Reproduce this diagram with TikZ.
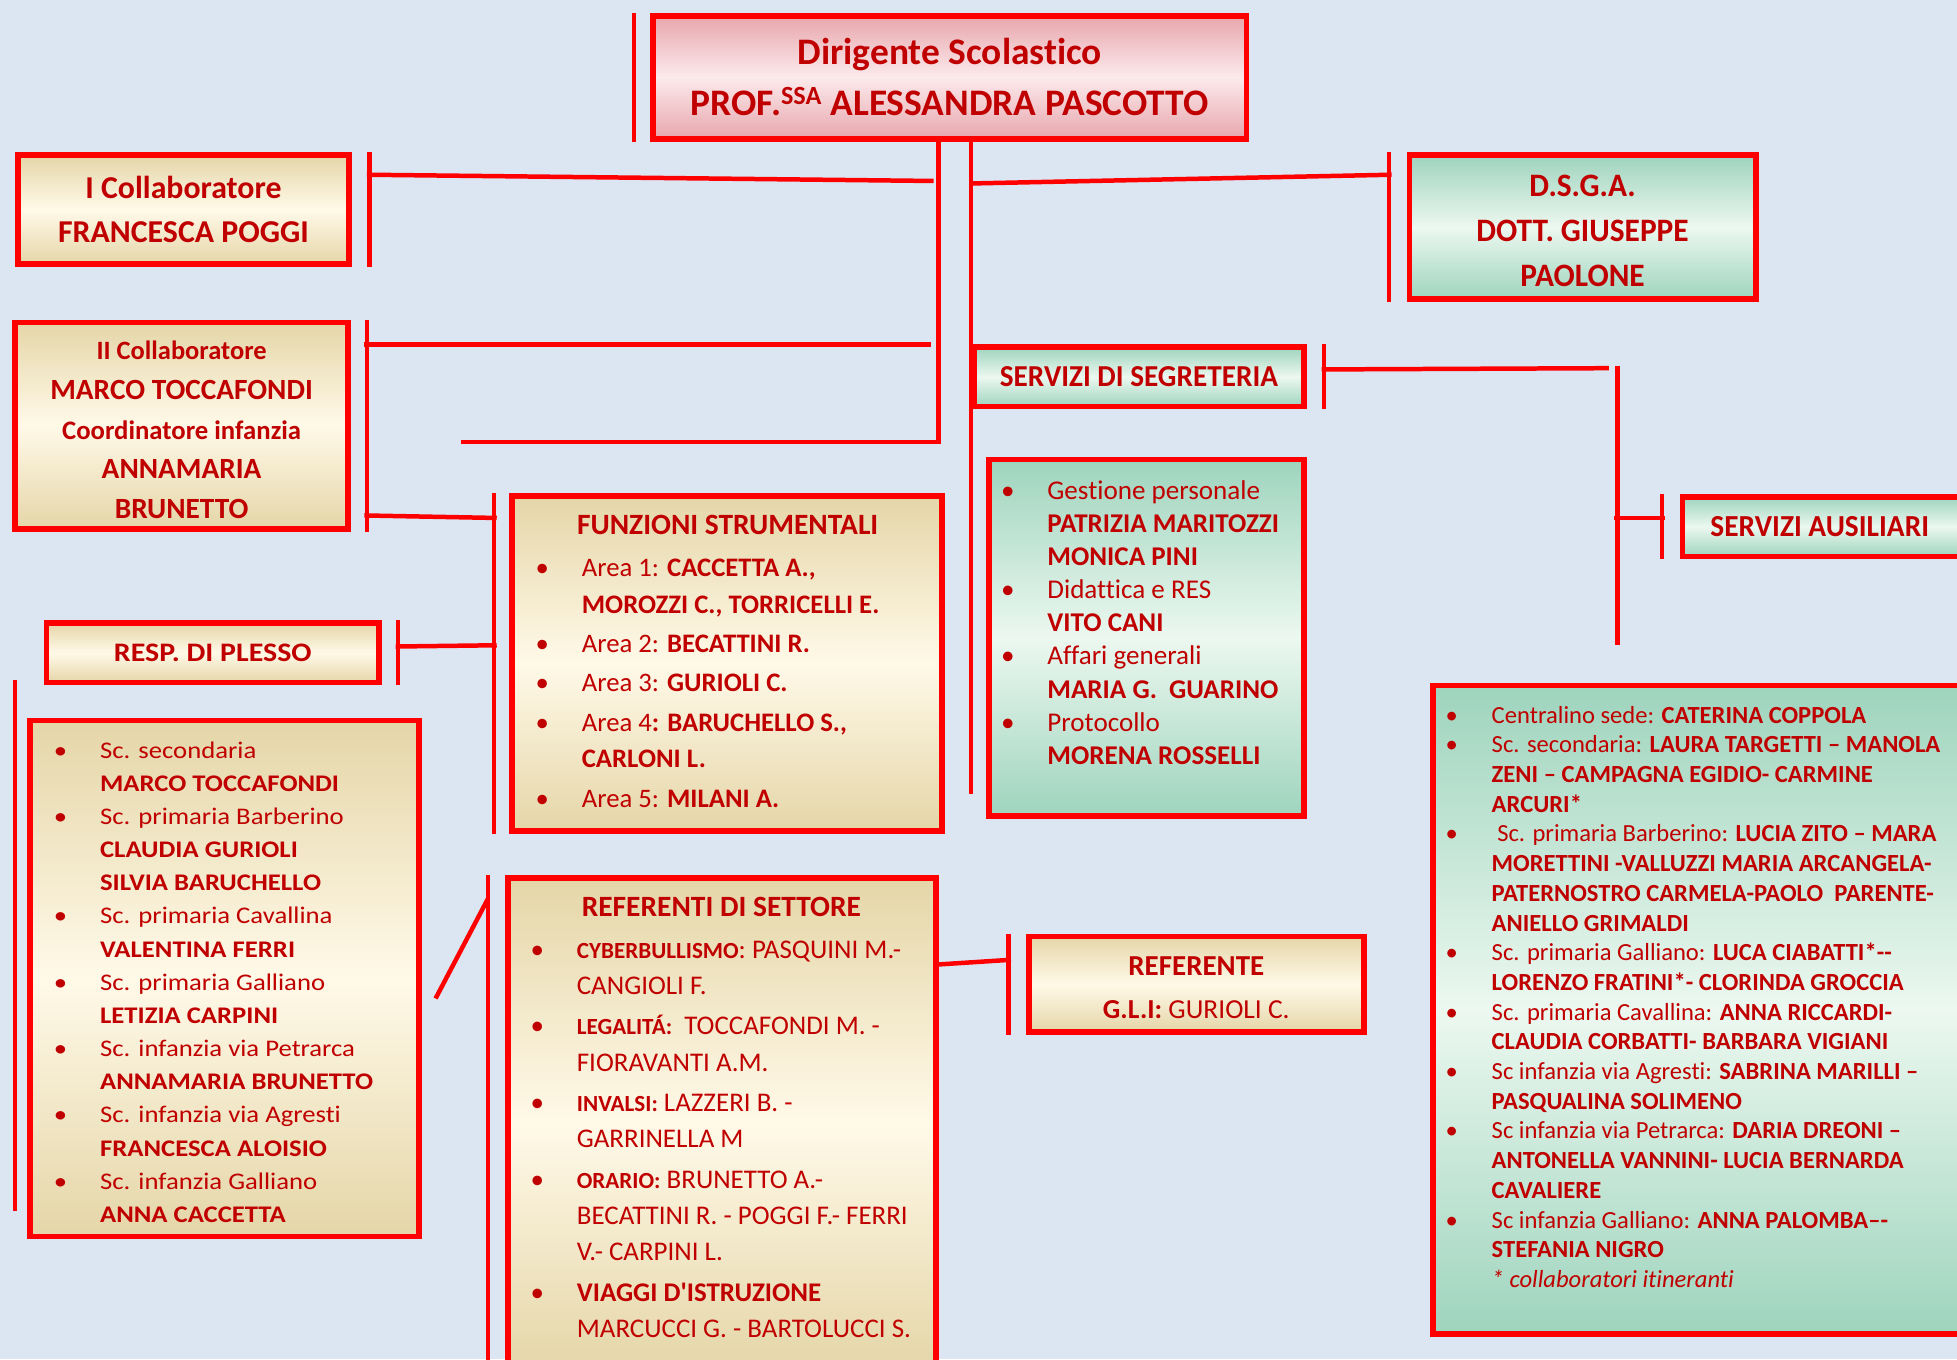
\documentclass[tikz,border=0pt]{standalone}
\usepackage{fontspec}
\setmainfont{Carlito}[Ligatures={TeX,CommonOff}]
\newfontfamily\slimfont{Carlito}[FakeStretch=0.96, Ligatures={TeX,CommonOff}]
\newfontfamily\widefont{Carlito}[FakeStretch=1.12, Ligatures={TeX,CommonOff}]
\usetikzlibrary{calc, positioning}
\definecolor{bgblue}{RGB}{220,230,242}
\definecolor{boxred}{RGB}{255,0,0}
\definecolor{txtred}{RGB}{192,0,0}
\definecolor{tanedge}{RGB}{229,214,168}
\definecolor{tanmid}{RGB}{255,249,232}
\definecolor{greenedge}{RGB}{158,212,189}
\definecolor{greenmid}{RGB}{236,248,240}
\definecolor{pinkedge}{RGB}{231,166,172}
\definecolor{pinkmid}{RGB}{252,234,236}
\newlength{\listindent}
\setlength{\listindent}{37pt}
\newcommand{\bulletbox}{\makebox[\listindent][l]{\textbullet}}
\newcommand{\skipbox}{\hspace*{\listindent}}
\tikzset{
    tan_box/.style={rectangle, draw=boxred, line width=4.5pt, top color=tanedge, bottom color=tanedge, middle color=tanmid, text=txtred, align=center, inner sep=0pt},
    green_box/.style={rectangle, draw=boxred, line width=4.5pt, top color=greenedge, bottom color=greenedge, middle color=greenmid, text=txtred, align=center, inner sep=0pt},
    pink_box/.style={rectangle, draw=boxred, line width=4.5pt, top color=pinkedge, bottom color=pinkedge, middle color=pinkmid, text=txtred, align=center, inner sep=0pt},
    list_text/.style={text=txtred, align=left, inner sep=0pt, anchor=north west},
    title_text/.style={text=txtred, inner sep=0pt, font=\fontsize{23.6}{28}\selectfont\bfseries},
    red_line/.style={draw=boxred, line width=3.6pt},
}

\begin{document}
\begin{tikzpicture}[x=1pt, y=-1pt]
            \fill [bgblue] (0,0) rectangle (1568,1089);
            \useasboundingbox (0,0) rectangle (1568,1089);
            %%%%%%%%%%%%%
            % DIRIGENTE %
            %%%%%%%%%%%%%
            \node (dirigente) [pink_box, minimum width=475.5pt, minimum height=98.5pt,
                    font=\fontsize{30}{41}\selectfont\bfseries] at (761,62)
                    {Dirigente Scolastico\\PROF.\textsuperscript{SSA} ALESSANDRA PASCOTTO};
            \draw [red_line] ([xshift=-13pt]dirigente.north west) -- ([xshift=-13pt]dirigente.south west);

            \coordinate (left_trunk_end) at (752,354);
            \coordinate (stub_end) at (369,354);
            \coordinate (right_trunk_end) at (778,636);
            \draw [red_line] (dirigente.south -| left_trunk_end) -- (left_trunk_end) -- (stub_end);
            \draw [red_line] (dirigente.south -| right_trunk_end) -- (right_trunk_end);

            %%%%%%%%%%%%%%%%%%
            % COLLABORATORI  %
            %%%%%%%%%%%%%%%%%%
            \node (collab_1) [tan_box, minimum width=265.5pt, minimum height=87.5pt,
                    font=\fontsize{25.5}{35}\selectfont\bfseries] at (147,168)
                    {I Collaboratore\\FRANCESCA POGGI};
            \node (collab_2) [tan_box, minimum width=266.5pt, minimum height=165.5pt,
                    font=\fontsize{23.5}{31.75}\selectfont\bfseries] at (145.5,341)
                    {\rule{0pt}{22pt}{\fontsize{21.2}{31.75}\selectfont II Collaboratore}\\MARCO TOCCAFONDI\\
                     {\fontsize{21.4}{31.75}\selectfont Coordinatore infanzia}\\ANNAMARIA\\BRUNETTO};

            \draw [red_line] ([xshift=14pt]collab_1.north east) -- ([xshift=14pt]collab_1.south east);
            \draw [red_line] ([xshift=13pt]collab_2.north east) -- ([xshift=13pt]collab_2.south east);
            \coordinate (collab_1_in) at (294,140);
            \coordinate (collab_1_out) at (748,145);
            \coordinate (collab_2_in) at (292,276);
            \coordinate (collab_2_out) at (746,276);
            \coordinate (collab_2_low) at (292,413);
            \coordinate (funzioni_in) at (398,415);
            \draw [red_line] (collab_1_in) -- (collab_1_out);
            \draw [red_line] (collab_2_in) -- (collab_2_out);
            \draw [red_line] (collab_2_low) -- (funzioni_in);

            %%%%%%%%%%%
            % D.S.G.A. %
            %%%%%%%%%%%
            \node (dsga) [green_box, minimum width=277.5pt, minimum height=115.5pt,
                    font=\slimfont\fontsize{26.2}{36}\selectfont\bfseries] at (1268,182)
                    {\rule{0pt}{23pt}D.S.G.A.\\DOTT. GIUSEPPE\\PAOLONE};
            \draw [red_line] ([xshift=-14pt]dsga.north west) -- ([xshift=-14pt]dsga.south west);
            \coordinate (dsga_from) at (778,147);
            \coordinate (dsga_in) at (1115,140);
            \draw [red_line] (dsga_from) -- (dsga_in);

            %%%%%%%%%%%%%%
            % SEGRETERIA %
            %%%%%%%%%%%%%%
            \node (segreteria_head) [green_box, minimum width=264.5pt, minimum height=47.5pt,
                    font=\slimfont\fontsize{24.4}{26}\selectfont\bfseries] at (912.5,302)
                    {SERVIZI DI SEGRETERIA};
            \draw [red_line] ([xshift=14pt]segreteria_head.north east) -- ([xshift=14pt]segreteria_head.south east);

            \node (segreteria_list_box) [green_box, minimum width=252.5pt, minimum height=285.5pt] at (918.5,511) {};
            \node (segreteria_list) [list_text, font=\fontsize{21.7}{26.5}\selectfont] at (802,385)
                    {\bulletbox Gestione personale\\
                     \skipbox\textbf{PATRIZIA MARITOZZI}\\
                     \skipbox\textbf{MONICA PINI}\\
                     \bulletbox Didattica e RES\\
                     \skipbox\textbf{VITO CANI}\\
                     \bulletbox Affari generali\\
                     \skipbox\textbf{MARIA G.\ \ GUARINO}\\
                     \bulletbox Protocollo\\
                     \skipbox\textbf{MORENA ROSSELLI}};

            %%%%%%%%%%%%%
            % AUSILIARI %
            %%%%%%%%%%%%%
            \coordinate (segreteria_out) at (1059,296);
            \coordinate (ausiliari_corner) at (1289,295);
            \coordinate (ausiliari_top) at (1296,293);
            \coordinate (ausiliari_bottom) at (1296,517);
            \coordinate (ausiliari_branch) at (1293,415);
            \coordinate (ausiliari_in) at (1334,415);
            \draw [red_line] (segreteria_out) -- (ausiliari_corner);
            \draw [red_line] (ausiliari_top) -- (ausiliari_bottom);
            \draw [red_line] (ausiliari_branch) -- (ausiliari_in);

            \node (ausiliari_head) [green_box, minimum width=240pt, minimum height=47.5pt,
                    font=\slimfont\fontsize{24.5}{26}\selectfont\bfseries] at (1468,422)
                    {SERVIZI AUSILIARI\hspace*{20pt}};
            \draw [red_line] ([xshift=-14pt]ausiliari_head.north west) -- ([xshift=-14pt]ausiliari_head.south west);

            \node (ausiliari_list_box) [green_box, minimum width=440pt, minimum height=519.5pt] at (1368,809) {};
            \node (ausiliari_list) [list_text, font=\fontsize{19.7}{23.8}\selectfont] at (1158,565.5)
                    {\bulletbox Centralino sede: \textbf{CATERINA COPPOLA}\\
                     \bulletbox Sc. secondaria: \textbf{LAURA TARGETTI – MANOLA}\\
                     \skipbox\textbf{ZENI – CAMPAGNA EGIDIO- CARMINE}\\
                     \skipbox\textbf{ARCURI*}\\
                     \bulletbox\ Sc. primaria Barberino: \textbf{LUCIA ZITO – MARA}\\
                     \skipbox\textbf{MORETTINI -VALLUZZI MARIA ARCANGELA-}\\
                     \skipbox\textbf{PATERNOSTRO CARMELA-PAOLO\ \ PARENTE-}\\
                     \skipbox\textbf{ANIELLO GRIMALDI}\\
                     \bulletbox Sc. primaria Galliano: \textbf{LUCA CIABATTI*-{}-}\\
                     \skipbox\textbf{LORENZO FRATINI*- CLORINDA GROCCIA}\\
                     \bulletbox Sc. primaria Cavallina: \textbf{ANNA RICCARDI-}\\
                     \skipbox\textbf{CLAUDIA CORBATTI- BARBARA VIGIANI}\\
                     \bulletbox Sc infanzia via Agresti: \textbf{SABRINA MARILLI –}\\
                     \skipbox\textbf{PASQUALINA SOLIMENO}\\
                     \bulletbox Sc infanzia via Petrarca: \textbf{DARIA DREONI –}\\
                     \skipbox\textbf{ANTONELLA VANNINI- LUCIA BERNARDA}\\
                     \skipbox\textbf{CAVALIERE}\\
                     \bulletbox Sc infanzia Galliano: \textbf{ANNA PALOMBA–{}-}\\
                     \skipbox\textbf{STEFANIA NIGRO}\\
                     \skipbox\textit{* collaboratori itineranti}};

            %%%%%%%%%%%%%
            % FUNZIONI  %
            %%%%%%%%%%%%%
            \node (funzioni_box) [tan_box, minimum width=344.5pt, minimum height=268.5pt] at (582.5,531.5) {};
            \draw [red_line] ([xshift=-12pt]funzioni_box.north west) -- ([xshift=-12pt]funzioni_box.south west);
            \node (funzioni_title) [title_text] at (583,421) {FUNZIONI STRUMENTALI};
            \node (funzioni_list) [list_text, font=\fontsize{21.4}{29.5}\selectfont] at (429,447.5)
                    {\bulletbox Area 1: \textbf{CACCETTA A.,}\\
                     \skipbox\textbf{MOROZZI C., TORRICELLI E.}\\[2pt]
                     \bulletbox Area 2: \textbf{BECATTINI R.}\\[2pt]
                     \bulletbox Area 3: \textbf{GURIOLI C.}\\[2pt]
                     \bulletbox Area 4\textbf{: BARUCHELLO S.,}\\
                     \skipbox\textbf{CARLONI L.}\\[2pt]
                     \bulletbox Area 5: \textbf{MILANI A.}};

            %%%%%%%%%%%%%%%%%%%
            % RESP. DI PLESSO %
            %%%%%%%%%%%%%%%%%%%
            \node (plesso_head) [tan_box, minimum width=266.5pt, minimum height=47.5pt,
                    font=\widefont\fontsize{21.4}{26}\selectfont\bfseries] at (170.5,523)
                    {RESP. DI PLESSO};
            \draw [red_line] ([xshift=13pt]plesso_head.north east) -- ([xshift=13pt]plesso_head.south east);
            \coordinate (plesso_out) at (317,518);
            \coordinate (funzioni_low_in) at (398,517);
            \draw [red_line] (plesso_out) -- (funzioni_low_in);

            \node (plesso_list_box) [tan_box, minimum width=311.5pt, minimum height=413.5pt] at (180,784) {};
            \coordinate (plesso_bar_top) at (12,545);
            \coordinate (plesso_bar_bottom) at (12,970);
            \draw [red_line] (plesso_bar_top) -- (plesso_bar_bottom);
            \node (plesso_list) [list_text, font=\widefont\fontsize{19.1}{26.57}\selectfont] at (43,594)
                    {\bulletbox Sc. secondaria\\
                     \skipbox\textbf{MARCO TOCCAFONDI}\\
                     \bulletbox Sc. primaria Barberino\\
                     \skipbox\textbf{CLAUDIA GURIOLI}\\
                     \skipbox\textbf{SILVIA BARUCHELLO}\\
                     \bulletbox Sc. primaria Cavallina\\
                     \skipbox\textbf{VALENTINA FERRI}\\
                     \bulletbox Sc. primaria Galliano\\
                     \skipbox\textbf{LETIZIA CARPINI}\\
                     \bulletbox Sc. infanzia via Petrarca\\
                     \skipbox\textbf{ANNAMARIA BRUNETTO}\\
                     \bulletbox Sc. infanzia via Agresti\\
                     \skipbox\textbf{FRANCESCA ALOISIO}\\
                     \bulletbox Sc. infanzia Galliano\\
                     \skipbox\textbf{ANNA CACCETTA}};

            %%%%%%%%%%%%%%%%%%%%%%%%
            % REFERENTI DI SETTORE %
            %%%%%%%%%%%%%%%%%%%%%%%%
            \node (referenti_box) [tan_box, minimum width=342.5pt, minimum height=394.5pt] at (578.5,900.5) {};
            \draw [red_line] ([xshift=-14pt]referenti_box.north west) -- ([xshift=-14pt]referenti_box.south west);
            \coordinate (referenti_slant_low) at (349,800);
            \coordinate (referenti_slant_high) at (391,720);
            \draw [red_line] (referenti_slant_low) -- (referenti_slant_high);
            \node (referenti_title) [title_text] at (578,727) {REFERENTI DI SETTORE};
            \node (referenti_list) [list_text, font=\fontsize{21.6}{29.2}\selectfont] at (425,753.5)
                    {\bulletbox{\fontsize{18.5}{29.2}\selectfont\bfseries CYBERBULLISMO}: PASQUINI M.-\\
                     \skipbox CANGIOLI F.\\[3pt]
                     \bulletbox{\fontsize{18.5}{29.2}\selectfont\bfseries LEGALITÁ:}\ \ TOCCAFONDI M. -\\
                     \skipbox FIORAVANTI A.M.\\[3pt]
                     \bulletbox{\fontsize{18.5}{29.2}\selectfont\bfseries INVALSI:} LAZZERI B. -\\
                     \skipbox GARRINELLA M\\[3pt]
                     \bulletbox{\fontsize{18.5}{29.2}\selectfont\bfseries ORARIO:} BRUNETTO A.-\\
                     \skipbox BECATTINI R. - POGGI F.- FERRI\\
                     \skipbox V.- CARPINI L.\\[3pt]
                     \bulletbox\textbf{VIAGGI D\textquotesingle ISTRUZIONE}\\
                     \skipbox MARCUCCI G. - BARTOLUCCI S.};

            %%%%%%%%%%%%%%%%%
            % REFERENTE GLI %
            %%%%%%%%%%%%%%%%%
            \node (referente_gli) [tan_box, minimum width=268.5pt, minimum height=76.5pt,
                    font=\fontsize{22}{34}\selectfont] at (958.5,788.5)
                    {\rule{0pt}{21pt}{\fontsize{23.2}{34}\selectfont\bfseries REFERENTE}\\\textbf{G.L.I:} GURIOLI C.};
            \draw [red_line] ([xshift=-14pt]referente_gli.north west) -- ([xshift=-14pt]referente_gli.south west);
            \coordinate (gli_from) at (748,773);
            \coordinate (gli_in) at (810,769);
            \draw [red_line] (gli_from) -- (gli_in);
      \end{tikzpicture}
\end{document}
